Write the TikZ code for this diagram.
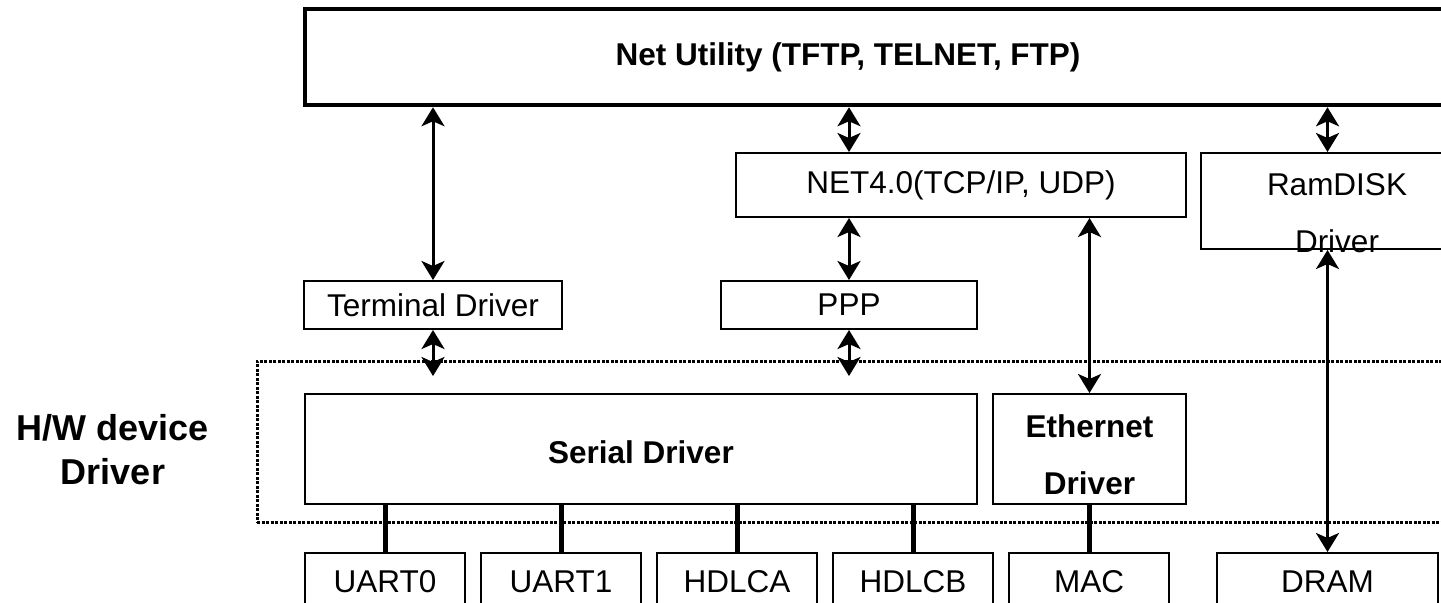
\documentclass[tikz,border=0pt]{standalone}
\usepackage{fontspec}
\setmainfont{Liberation Sans}
\usetikzlibrary{arrows.meta}

\tikzset{
  box/.style={draw, line width=1pt, inner sep=0pt, font=\fontsize{15.75}{19}\selectfont},
  twoline/.style={align=center, font=\fontsize{15.75}{28.5}\selectfont},
  link/.style={line width=1.5pt, {Stealth[length=9.5pt,width=11.5pt,inset=2.5pt]}-{Stealth[length=9.5pt,width=11.5pt,inset=2.5pt]}},
  bus/.style={line width=2.5pt},
}

\begin{document}
\begin{tikzpicture}[x=0.5pt,y=-0.5pt]
        \path [use as bounding box, clip] (0,0) rectangle (1441,602);
        \node (hw) [draw, line width=1.5pt, dash pattern=on 1.5pt off 0.75pt, minimum width=611.5pt, minimum height=80.5pt] at (868.5,441.5) {};
        \node (hwlabel) [align=center, font=\fontsize{18}{22}\selectfont\bfseries] at (113,450) {H/W device\\Driver};
        \node (util) [draw, line width=2.25pt, minimum width=587.5pt, minimum height=48pt] at (892.5,57) {};
        \node (utiltext) [font=\fontsize{15.75}{19}\selectfont\bfseries] at (848,57) {Net Utility (TFTP, TELNET, FTP)};
        \node (net) [box, minimum width=225pt, minimum height=32pt] at (961,185) {NET4.0(TCP/IP, UDP)};
        \node (ramdisk) [box, minimum width=139.5pt, minimum height=48pt] at (1340.5,201) {};
        \node (ramtext) [twoline] at (1337,213) {RamDISK\\Driver};
        \node (term) [box, minimum width=129pt, minimum height=24pt] at (433,305) {Terminal Driver};
        \node (ppp) [box, minimum width=128pt, minimum height=24pt] at (849,305) {PPP};
        \node (serial) [box, minimum width=336pt, minimum height=55pt] at (641,449) {};
        \node (serialtext) [font=\fontsize{15.75}{19}\selectfont\bfseries] at (641,452) {Serial Driver};
        \node (ether) [box, minimum width=96.5pt, minimum height=55pt] at (1089.5,449) {};
        \node (ethertext) [twoline, font=\fontsize{15.75}{28.5}\selectfont\bfseries] at (1089.5,455) {Ethernet\\Driver};
        \node (uart0) [box, minimum width=80pt, minimum height=28.5pt] at (385,581.5) {UART0};
        \node (uart1) [box, minimum width=80pt, minimum height=28.5pt] at (561,581.5) {UART1};
        \node (hdlca) [box, minimum width=80pt, minimum height=28.5pt] at (737,581.5) {HDLCA};
        \node (hdlcb) [box, minimum width=80pt, minimum height=28.5pt] at (913,581.5) {HDLCB};
        \node (mac) [box, minimum width=80pt, minimum height=28.5pt] at (1089,581.5) {MAC};
        \node (dram) [box, minimum width=110.5pt, minimum height=28.5pt] at (1327.5,581.5) {DRAM};
        \coordinate (termlow) at (433,376);
        \coordinate (ppplow) at (849,376);
        \draw [link] (term.north |- util.south) to (term.north);
        \draw [link] (term.south) to (termlow);
        \draw [link] (ppp.north |- util.south) to (ppp.north |- net.north);
        \draw [link] (ppp.north |- net.south) to (ppp.north);
        \draw [link] (ppp.south) to (ppplow);
        \draw [link] (ether.north |- net.south) to (ether.north);
        \draw [link] (dram.north |- util.south) to (dram.north |- ramdisk.north);
        \draw [link] (dram.north |- ramdisk.south) to (dram.north);
        \draw [bus] (uart0.north) to (uart0.north |- serial.south);
        \draw [bus] (uart1.north) to (uart1.north |- serial.south);
        \draw [bus] (hdlca.north) to (hdlca.north |- serial.south);
        \draw [bus] (hdlcb.north) to (hdlcb.north |- serial.south);
        \draw [bus] (mac.north) to (mac.north |- ether.south);
\end{tikzpicture}
\end{document}
